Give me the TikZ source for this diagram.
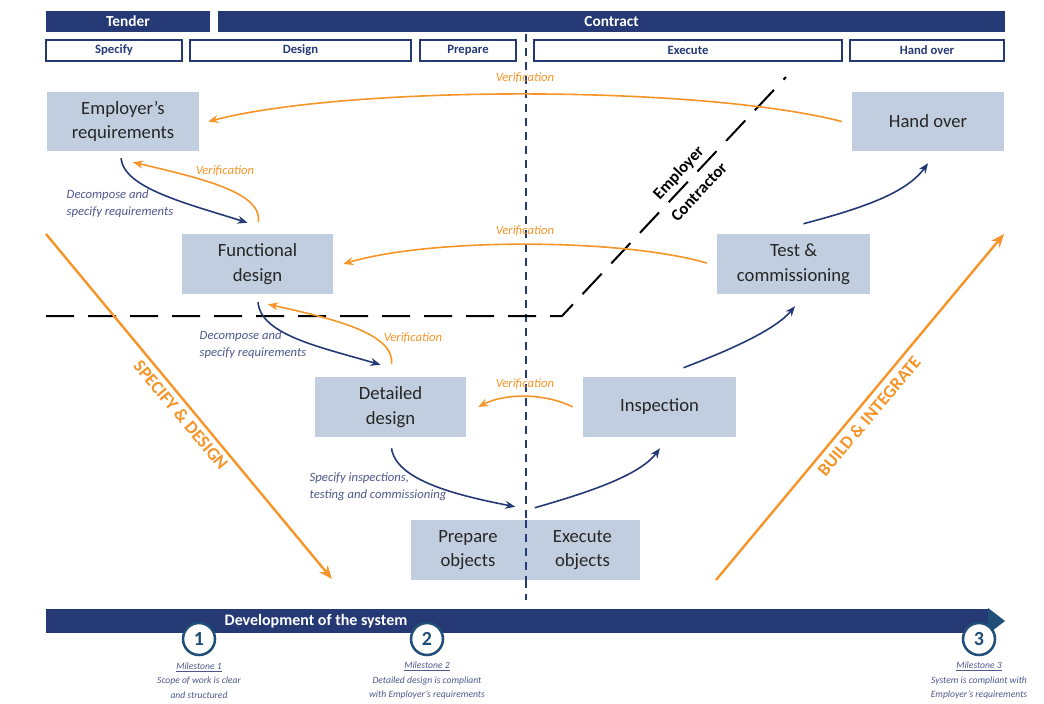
\documentclass[tikz,border=0pt]{standalone}
\usepackage{fontspec}
\setmainfont{Carlito}
\usetikzlibrary{calc,arrows.meta}

\definecolor{vnavy}{RGB}{37,57,117}
\definecolor{vteal}{RGB}{31,78,121}
\definecolor{vbox}{RGB}{193,206,223}
\definecolor{vorange}{RGB}{247,148,40}
\definecolor{vlabel}{RGB}{78,88,140}
\definecolor{vtext}{RGB}{38,38,38}

\tikzset{
	boxsize/.style 2 args={minimum width=#1*0.75pt, minimum height=#2*0.75pt, inner sep=0pt},
	hbar/.style={fill=vnavy, text=white, font=\fontsize{11.5}{13}\selectfont\bfseries},
	phase/.style={draw=vnavy, line width=1pt, fill=white, text=vnavy, font=\fontsize{9.5}{11}\selectfont\bfseries},
	stagebox/.style={fill=vbox, text=vtext, align=center, font=\fontsize{14}{18.4}\selectfont},
	navyarr/.style={draw=vnavy, line width=1.2pt, -{Stealth[length=7.5pt,width=6pt]}},
	orarr/.style={draw=vorange, line width=1.2pt, -{Stealth[length=7.5pt,width=6pt]}},
	bigarr/.style={draw=vorange, line width=1.8pt, -{Stealth[length=10pt,width=8pt]}},
	verif/.style={text=vorange, font=\fontsize{9.5}{11}\selectfont\itshape},
	steplabel/.style={text=vlabel, align=left, anchor=west, font=\fontsize{9.5}{12.75}\selectfont\itshape},
	vlabelbig/.style={text=vorange, font=\fontsize{13.5}{15}\selectfont\bfseries},
	splitlabel/.style={font=\fontsize{12.5}{14}\selectfont\bfseries, rotate=47},
	mcircle/.style={circle, draw=vteal, line width=1.9pt, fill=white, minimum size=24pt, inner sep=0pt, text=vteal, font=\fontsize{15}{15}\selectfont\bfseries},
	mtext/.style={text=vlabel, align=center, font=\fontsize{7.2}{10.7}\selectfont\itshape}
}

\begin{document}
\begin{tikzpicture}[x=0.75pt,y=-0.75pt]
	%%%%% START %%%%%
	\useasboundingbox (0,0) rectangle (1044,703);
	
	% tender / contract
	\node[hbar, boxsize={164}{21}] (tender) at (128,21.5) {Tender};
	\node[hbar, boxsize={787}{21}] (contract) at (611.5,21.5) {Contract};
	
	\node[phase, boxsize={136}{21}] (specify) at (114,50.5) {Specify};
	\node[phase, boxsize={221}{21}] (design) at (300.5,50.5) {Design};
	\node[phase, boxsize={96}{21}] (prepare) at (468,50.5) {Prepare};
	\node[phase, boxsize={308}{21}] (execute) at (688,50.5) {Execute};
	\node[phase, boxsize={154}{21}] (handoverph) at (927,50.5) {Hand over};
	
	% split lines
	\draw[vnavy, line width=1.1pt, dash pattern=on 6pt off 4.5pt] (526,34) -- (526,600);
	\draw[black, line width=1.5pt, dash pattern=on 21pt off 10.5pt] (46,316) -- (562,316) -- (786,77);
	\node[splitlabel] (employer) at (679,173) {Employer};
	\node[splitlabel] (contractor) at (699,192) {Contractor};
	
	% stages
	\node[stagebox, boxsize={152}{59}] (er) at (123,121.5) {Employer's\\requirements};
	\node[stagebox, boxsize={152}{59}] (ho) at (928,121.5) {Hand over};
	\node[stagebox, boxsize={151}{60}] (fd) at (257.5,264) {Functional\\design};
	\node[stagebox, boxsize={153}{60}] (tc) at (793.5,264) {Test \&\\commissioning};
	\node[stagebox, boxsize={151}{60}] (dd) at (390.5,407) {Detailed\\design};
	\node[stagebox, boxsize={153}{60}] (insp) at (659.5,407) {Inspection};
	\node[stagebox, boxsize={114}{60}] (prep) at (468,550) {Prepare\\objects};
	\node[stagebox, boxsize={115}{60}] (exec) at (582.5,550) {Execute\\objects};
	\draw[vnavy, line width=1.1pt, dash pattern=on 6pt off 4.5pt] (526,520) -- (526,580);
	
	% verification
	\draw[orarr] ([shift={(-10,0)}]ho.west) .. controls (700,85) and (350,85) .. ([shift={(9,0)}]er.east);
	\node[verif] (v1) at (525,78) {Verification};
	\draw[orarr] ([shift={(-10,-1)}]tc.west) .. controls (620,238) and (430,238) .. ([shift={(10,0)}]fd.east);
	\node[verif] (v2) at (525,231) {Verification};
	\draw[orarr] ([shift={(-10,0)}]insp.west) .. controls (545,393) and (505,393) .. ([shift={(12,0)}]dd.east);
	\node[verif] (v3) at (525,384) {Verification};
	
	% left side
	\draw[navyarr] ([shift={(-2,7)}]er.south) .. controls (124,188) and (185,203) .. ([shift={(-10,-11)}]fd.north);
	\draw[orarr] ([shift={(1,-12)}]fd.north) .. controls (262,192) and (200,178) .. ([shift={(10,11)}]er.south);
	\node[verif] (v4) at (225,171) {Verification};
	\node[steplabel] (dec1) at (62,203.5) {Decompose and\\specify requirements};
	
	\draw[navyarr] ([shift={(0.5,8)}]fd.south) .. controls (261,335) and (320,347) .. ([shift={(-10,-12)}]dd.north);
	\draw[orarr] ([shift={(1,-13)}]dd.north) .. controls (395,333) and (330,318) .. ([shift={(10.5,10)}]fd.south);
	\node[verif] (v5) at (413,338) {Verification};
	\node[steplabel] (dec2) at (195,345) {Decompose and\\specify requirements};
	
	\draw[navyarr] ([shift={(1,11)}]dd.south) .. controls (396,480) and (455,495) .. ([shift={(-10,-13)}]prep.north east);
	\node[steplabel] (spec) at (305,486.5) {Specify inspections,\\testing and commissioning};
	
	% right side
	\draw[navyarr] ([shift={(10,-12)}]exec.north west) .. controls (590,492) and (640,475) .. ([shift={(0.5,11)}]insp.south);
	\draw[navyarr] ([shift={(24,-9)}]insp.north) .. controls (730,350) and (775,330) .. ([shift={(1.5,12)}]tc.south);
	\draw[navyarr] ([shift={(10,-10)}]tc.north) .. controls (855,210) and (905,195) .. ([shift={(0,12)}]ho.south);
	
	% big arrows
	\coordinate (sd0) at (46,234);
	\coordinate (sd1) at (332,579);
	\coordinate (bi0) at (716,580);
	\coordinate (bi1) at (1004,234);
	\draw[bigarr] (sd0) -- (sd1);
	\draw[bigarr] (bi0) -- (bi1);
	\node[vlabelbig, rotate=-50] (sdl) at (181,415) {SPECIFY \& DESIGN};
	\node[vlabelbig, rotate=50] (bil) at (869,416) {BUILD \& INTEGRATE};
	
	% development bar
	\fill[vnavy] (46,609) rectangle (988,633);
	\fill[vteal] (988,608) -- (1005,621) -- (988,634) -- cycle;
	\node[text=white, font=\fontsize{12}{13}\selectfont\bfseries] (dev) at (316,621) {Development of the system};
	
	% milestones
	\foreach \x/\n/\a/\b in {199/1/{Scope of work is clear}/{and structured},
		427/2/{Detailed design is compliant}/{with Employer's requirements},
		979/3/{System is compliant with}/{Employer's requirements}}{
		\node[mcircle] (m\n) at (\x,639) {\n};
		\node[mtext] (mt\n) at (\x,680.5) {\underline{Milestone \n}\\\a\\\b};
	}
	
	%%%%% END %%%%%
\end{tikzpicture}
\end{document}
